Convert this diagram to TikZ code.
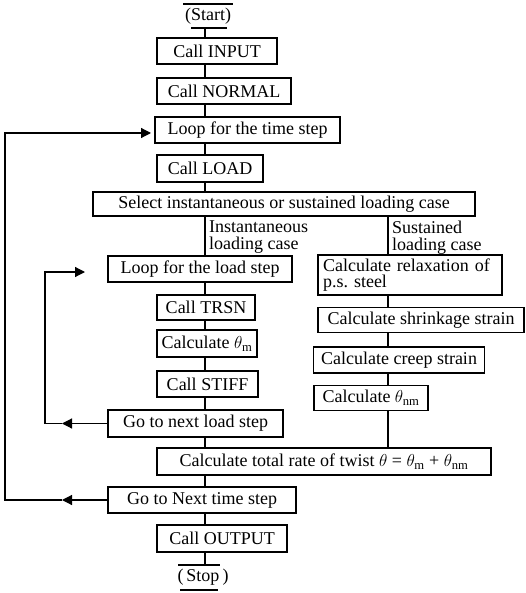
\documentclass[tikz,border=0pt]{standalone}
\usepackage{fontspec}
\setmainfont{Liberation Serif}
\usetikzlibrary{arrows.meta}
\newcommand\flfont{\fontsize{18}{16.5}\selectfont}
\tikzset{
  fbox/.style={draw, line width=1.1pt, inner sep=0pt, minimum height=26pt, font=\flfont, anchor=center},
  lbl/.style={inner sep=0pt, font=\flfont, align=left, anchor=north west},
  term/.style={inner sep=0pt, font=\flfont, anchor=center},
  conn/.style={line width=1.2pt},
  tip/.style={-{Triangle[length=10pt,width=10pt]}},
}
\begin{document}
\frenchspacing
\begin{tikzpicture}[x=1pt,y=-1pt]
\useasboundingbox (0,0) rectangle (526,593);
% spine coordinates
\coordinate (sp) at (205,0);
\coordinate (sr) at (388,0);
% terminators
\node[term] (start) at (208,16) {(Start)};
\coordinate (stTopL) at (183,4); \coordinate (stTopR) at (233,4);
\coordinate (stBotL) at (191,28); \coordinate (stBotR) at (227,28);
\draw[line width=1.1pt] (stTopL) -- (stTopR);
\draw[line width=1.1pt] (stBotL) -- (stBotR);
\node[term] (stop) at (203,577) {(\,Stop\,)};
\coordinate (spTopL) at (178,565); \coordinate (spTopR) at (220,565);
\coordinate (spBotL) at (180,590); \coordinate (spBotR) at (218,590);
\draw[line width=1.1pt] (spTopL) -- (spTopR);
\draw[line width=1.1pt] (spBotL) -- (spBotR);
% left column boxes
\node[fbox, minimum width=120pt] (input) at (217,51) {Call INPUT};
\node[fbox, minimum width=134pt] (normal) at (224,91) {Call NORMAL};
\node[fbox, minimum width=185pt] (tloop) at (247.5,130) {Loop for the time step};
\node[fbox, minimum width=106pt, minimum height=27pt] (load) at (210,168.5) {Call LOAD};
\node[fbox, minimum width=382pt, minimum height=24pt] (select) at (284,204) {Select instantaneous or sustained loading case};
\node[fbox, minimum width=184pt] (lloop) at (200,269) {Loop for the load step};
\node[fbox, minimum width=98pt, minimum height=25pt] (trsn) at (206,307.5) {Call TRSN};
\node[fbox, minimum width=100pt, minimum height=27pt] (thm) at (207,343.5) {Calculate $\theta_{\mathrm{m}}$};
\node[fbox, minimum width=101pt] (stiff) at (207.5,384) {Call STIFF};
\node[fbox, minimum width=175pt, minimum height=27pt] (nextload) at (195.5,423.5) {Go to next load step};
\node[fbox, minimum width=334pt, minimum height=27pt] (total) at (324,461.5) {Calculate total rate of twist $\theta$ = $\theta_{\mathrm{m}}$ + $\theta_{\mathrm{nm}}$};
\node[fbox, minimum width=188pt] (nexttime) at (202,500) {Go to Next time step};
\node[fbox, minimum width=130pt, minimum height=27pt] (output) at (222,538.5) {Call OUTPUT};
% right column boxes
\node[fbox, minimum width=184pt, minimum height=40pt, align=left, text width=174pt] (relax) at (410,275) {Calculate relaxation of\\p.s.\ steel};
\node[fbox, minimum width=206pt, minimum height=25pt] (shrink) at (421,320) {Calculate shrinkage strain};
\node[fbox, minimum width=171pt] (creep) at (399,360) {Calculate creep strain};
\node[fbox, minimum width=114pt, minimum height=25pt] (thnm) at (371,398) {Calculate $\theta_{\mathrm{nm}}$};
% branch labels
\node[lbl] (linst) at (209,221) {Instantaneous\\loading case};
\node[lbl] (lsust) at (392,221) {Sustained\\loading case};
% spine connectors
\draw[conn] (sp |- stBotL) -- (sp |- input.north);
\draw[conn] (sp |- input.south) -- (sp |- normal.north);
\draw[conn] (sp |- normal.south) -- (sp |- tloop.north);
\draw[conn] (sp |- tloop.south) -- (sp |- load.north);
\draw[conn] (sp |- load.south) -- (sp |- select.north);
\draw[conn] (sp |- select.south) -- (sp |- lloop.north);
\draw[conn] (sp |- lloop.south) -- (sp |- trsn.north);
\draw[conn] (sp |- trsn.south) -- (sp |- thm.north);
\draw[conn] (sp |- thm.south) -- (sp |- stiff.north);
\draw[conn] (sp |- stiff.south) -- (sp |- nextload.north);
\draw[conn] (sp |- nextload.south) -- (sp |- total.north);
\draw[conn] (sp |- total.south) -- (sp |- nexttime.north);
\draw[conn] (sp |- nexttime.south) -- (sp |- output.north);
\draw[conn] (sp |- output.south) -- (sp |- spTopL);
% right connectors
\draw[conn] (sr |- select.south) -- (sr |- relax.north);
\draw[conn] (sr |- relax.south) -- (sr |- shrink.north);
\draw[conn] (sr |- shrink.south) -- (sr |- creep.north);
\draw[conn] (sr |- creep.south) -- (sr |- thnm.north);
\draw[conn] (sr |- thnm.south) -- (sr |- total.north);
% load-step loop
\coordinate (lt1) at (62,423.5);
\coordinate (lc1) at (45,423.5);
\coordinate (lc2) at (45,272);
\coordinate (le1) at (85,272);
\draw[conn, tip] (nextload.west) -- (lt1);
\draw[conn, tip] (lt1) -- (lc1) -- (lc2) -- (le1);
% time-step loop
\coordinate (tt1) at (62,500);
\coordinate (tc1) at (5,500);
\coordinate (tc2) at (5,133);
\coordinate (te1) at (151,133);
\draw[conn, tip] (nexttime.west) -- (tt1);
\draw[conn, tip] (tt1) -- (tc1) -- (tc2) -- (te1);
\end{tikzpicture}
\end{document}
